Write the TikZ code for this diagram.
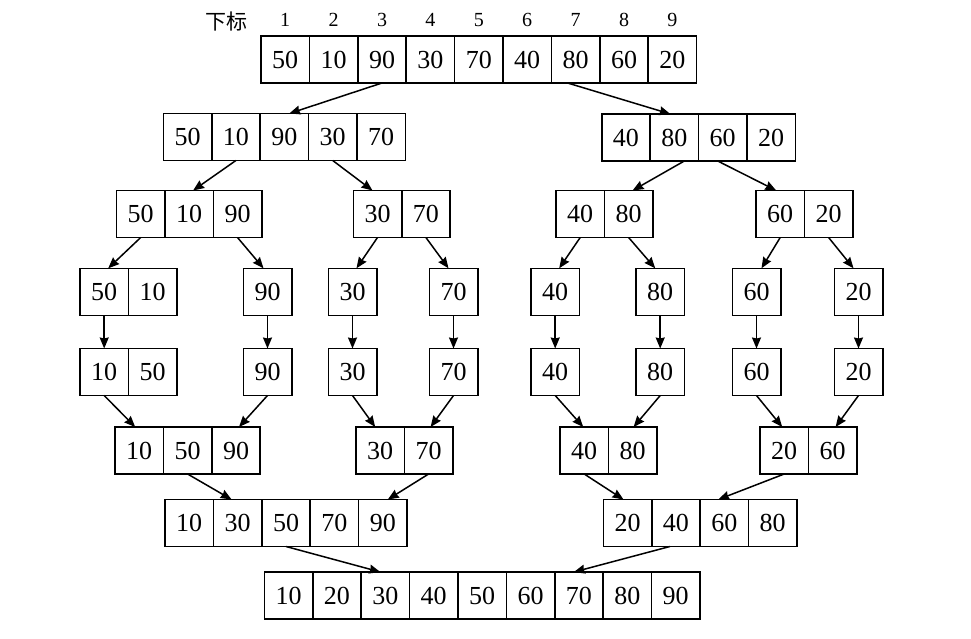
\documentclass[tikz,border=0pt]{standalone}
\usepackage{fontspec}
\setmainfont{Liberation Serif}
\newfontfamily\cjk{Noto Sans CJK SC}
\usetikzlibrary{calc,arrows.meta}
\tikzset{
  cellbox/.style={draw, line width=1.6pt, minimum width=48.4pt, minimum height=47pt,
    inner sep=0pt, outer sep=0pt, font=\fontsize{26}{26}\selectfont},
  idx/.style={font=\fontsize{20}{20}\selectfont, inner sep=0pt},
  arr/.style={draw, line width=1.5pt, -{Stealth[length=11pt,width=9pt,inset=1pt]}}
}
\newcommand{\cellrow}[4]{%
  \foreach \v [count=\i] in {#4} {
    \node[cellbox] (#1-\i) at ({#2+(\i-0.5)*48.4},{#3+23.5}) {\v};
  }%
}
\begin{document}
\begin{tikzpicture}[x=1pt,y=-1pt]
\useasboundingbox (0,0) rectangle (971,639);
\fill[white] (0,0) rectangle (971,639);
% rows
\cellrow{T}{261}{36}{50,10,90,30,70,40,80,60,20}
\cellrow{B1}{163.3}{113.5}{50,10,90,30,70}
\cellrow{B2}{601.7}{114}{40,80,60,20}
\cellrow{C1}{116.5}{190.5}{50,10,90}
\cellrow{C2}{353.3}{190.5}{30,70}
\cellrow{C3}{556}{190.5}{40,80}
\cellrow{C4}{756}{190.5}{60,20}
\cellrow{D1}{80}{268.3}{50,10}
\cellrow{D2}{243.3}{268.3}{90}
\cellrow{D3}{328.3}{268.3}{30}
\cellrow{D4}{429.3}{268.3}{70}
\cellrow{D5}{531}{268.3}{40}
\cellrow{D6}{636}{268.3}{80}
\cellrow{D7}{732.3}{268.3}{60}
\cellrow{D8}{834.3}{268.3}{20}
\cellrow{E1}{80}{348.5}{10,50}
\cellrow{E2}{243.3}{348.5}{90}
\cellrow{E3}{328.3}{348.5}{30}
\cellrow{E4}{429.3}{348.5}{70}
\cellrow{E5}{531}{348.5}{40}
\cellrow{E6}{636}{348.5}{80}
\cellrow{E7}{732.3}{348.5}{60}
\cellrow{E8}{834.3}{348.5}{20}
\cellrow{F1}{115}{427}{10,50,90}
\cellrow{F2}{356}{427}{30,70}
\cellrow{F3}{560}{427}{40,80}
\cellrow{F4}{760}{427}{20,60}
\cellrow{G1}{165}{499.5}{10,30,50,70,90}
\cellrow{G2}{603.3}{499.5}{20,40,60,80}
\cellrow{H}{264.3}{572}{10,20,30,40,50,60,70,80,90}
% index labels
\foreach \i in {1,...,9} {
  \node[idx] (n\i) at ($(T-\i.north)+(0,-16)$) {\i};
}
\node[idx, font=\cjk\fontsize{21}{21}\selectfont] (lbl) at (226,22) {下标};
% arrows row1 -> row2
\draw[arr] (T-3.south) -- ($(B1-3.north)+(5,0)$);
\draw[arr] ($(T-7.south)+(-8,0)$) -- ($(B2-2.north)+(-4,0)$);
% row2 -> row3
\draw[arr] (B1-2.south) -- ($(C1-2.north)+(4,0)$);
\draw[arr] (B1-4.south) -- ($(C2-1.north)+(-5,0)$);
\draw[arr] ($(B2-2.south)+(10,0)$) -- ($(C3-2.north)+(4,0)$);
\draw[arr] ($(B2-3.south)+(-5,0)$) -- ($(C4-1.north)+(-4,0)$);
% row3 -> row4
\draw[arr] (C1-1.south) -- ($(D1-1.north)+(4,0)$);
\draw[arr] (C1-3.south) -- ($(D2-1.north)+(-4,0)$);
\draw[arr] (C2-1.south) -- ($(D3-1.north)+(4,0)$);
\draw[arr] (C2-2.south) -- ($(D4-1.north)+(-5,0)$);
\draw[arr] (C3-1.south) -- ($(D5-1.north)+(4,0)$);
\draw[arr] (C3-2.south) -- ($(D6-1.north)+(-5,0)$);
\draw[arr] (C4-1.south) -- ($(D7-1.north)+(5,0)$);
\draw[arr] (C4-2.south) -- ($(D8-1.north)+(-5,0)$);
% row4 -> row5
\foreach \k in {1,...,8} {
  \draw[arr] (D\k-1.south) -- (E\k-1.north);
}
% row5 -> row6
\draw[arr] (E1-1.south) -- ($(F1-1.north)+(-4,0)$);
\draw[arr] (E2-1.south) -- ($(F1-3.north)+(3,0)$);
\draw[arr] (E3-1.south) -- ($(F2-1.north)+(-5,0)$);
\draw[arr] (E4-1.south) -- ($(F2-2.north)+(2,0)$);
\draw[arr] (E5-1.south) -- ($(F3-1.north)+(-1,0)$);
\draw[arr] (E6-1.south) -- ($(F3-2.north)+(1,0)$);
\draw[arr] (E7-1.south) -- ($(F4-1.north)+(-2,0)$);
\draw[arr] (E8-1.south) -- ($(F4-2.north)+(3,0)$);
% row6 -> row7
\draw[arr] (F1-2.south) -- ($(G1-2.north)+(-6,0)$);
\draw[arr] (F2-2.south) -- ($(G1-5.north)+(5,0)$);
\draw[arr] (F3-1.south) -- ($(G2-1.north)+(-4,0)$);
\draw[arr] (F4-1.south) -- ($(G2-3.north)+(-6,0)$);
% row7 -> row8
\draw[arr] (G1-3.south) -- ($(H-3.north)+(-5,0)$);
\draw[arr] ($(G2-2.south)+(-6,0)$) -- ($(H-7.north)+(-5,0)$);
\end{tikzpicture}
\end{document}
